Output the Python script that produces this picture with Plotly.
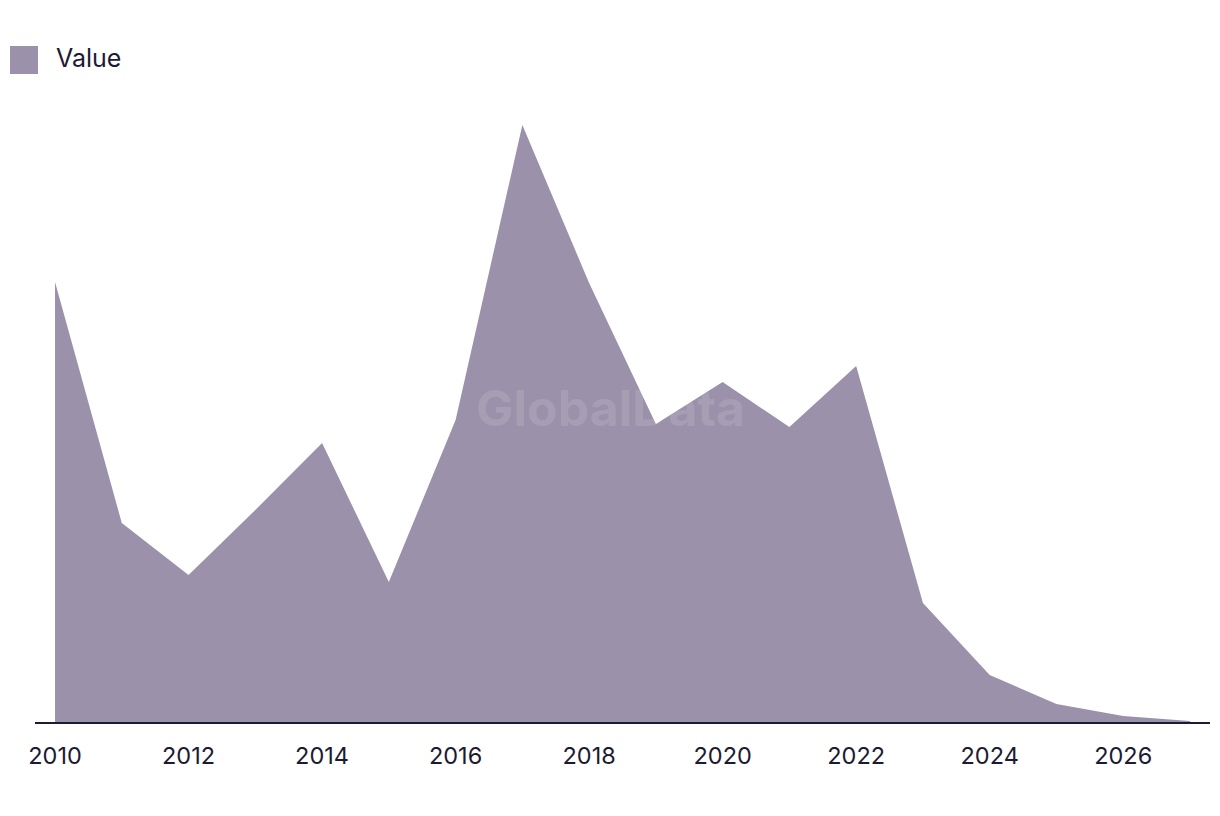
import plotly.graph_objects as go

years = list(range(2010, 2028))
values = [441, 200, 148, 213, 280, 141, 303, 598, 440, 299, 341, 296, 357, 120, 48, 19, 7, 2]
tick_vals = list(range(2010, 2028, 2))
tick_text = [str(y) for y in tick_vals]
series_name = "Value"
fill_color = "#9b91aa"
text_color = "#1c1b33"

# plot area in figure pixels (page has an 8px body margin)
L, R, T, B = 27, 18, 92, 101
PW, PH = 1220 - L - R, 816 - T - B

fig = go.Figure()
fig.add_trace(go.Scatter(
    x=years, y=values, mode="lines", fill="tozeroy",
    fillcolor=fill_color, line=dict(width=0, color=fill_color),
    name=series_name, showlegend=False, hoverinfo="x+y",
))

fig.update_layout(
    width=1220, height=816,
    margin=dict(l=L, r=R, t=T, b=B),
    paper_bgcolor="white", plot_bgcolor="white",
    font=dict(family="Inter, Liberation Sans, sans-serif", color=text_color, size=23),
    xaxis=dict(range=[2009.7, 2027.3], tickmode="array", tickvals=tick_vals, ticktext=tick_text,
               showgrid=False, zeroline=False, showline=False, ticks="", ticklabelstandoff=16,
               tickfont=dict(size=23.5, color=text_color)),
    yaxis=dict(range=[0, 623], visible=False, showgrid=False, zeroline=False),
    shapes=[
        dict(type="line", xref="paper", yref="paper", x0=0, x1=1, y0=0, y1=0,
             line=dict(color=text_color, width=2.2)),
        dict(type="rect", xref="paper", yref="paper", x0=-25/PW, x1=3/PW,
             y0=(723-74)/PH, y1=(723-46)/PH, fillcolor=fill_color, line=dict(width=0)),
    ],
    annotations=[
        dict(text=series_name, xref="paper", yref="paper", x=19/PW, y=(723-58)/PH,
             xanchor="left", yanchor="middle", showarrow=False,
             font=dict(size=25, color=text_color)),
        dict(text="<b>GlobalData</b>", xref="paper", yref="paper", x=(610-35)/PW, y=(723-408)/PH,
             xanchor="center", yanchor="middle", showarrow=False,
             font=dict(size=50, color="rgba(255,255,255,0.12)")),
    ],
)

fig.write_html("out.html")
